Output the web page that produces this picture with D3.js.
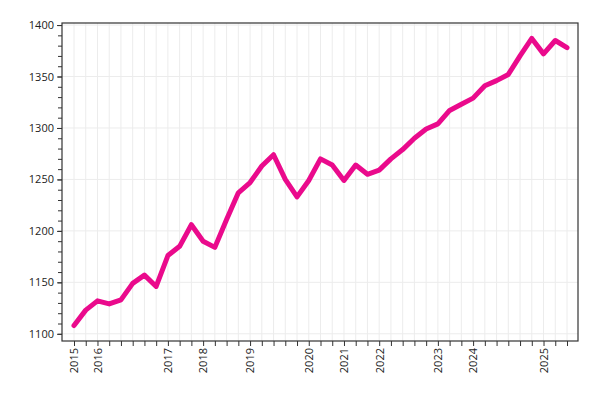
<!DOCTYPE html>
<html><head><meta charset="utf-8">
<script src="https://cdn.jsdelivr.net/npm/d3@7"></script>
<style>body{margin:0;background:#fff}text{font-family:"Open Sans",sans-serif;font-size:11px;fill:#222}</style>
</head><body><svg id="c" width="600" height="400"></svg>
<script>
const values=[1108,1123,1132,1129,1133,1149,1157,1146,1176,1185,1206,1190,1184,1211,1237,1247,1263,1274,1250,1233,1249,1270,1264,1249,1264,1255,1259,1270,1279,1290,1299,1304,1317,1323,1329,1341,1346,1352,1370,1387,1372,1385,1378];
const yearLabels={0:"2015",2:"2016",8:"2017",11:"2018",15:"2019",20:"2020",23:"2021",26:"2022",31:"2023",34:"2024",40:"2025"};
const labels=values.map((v,i)=>yearLabels[i]||"");
const yTicks=[1100,1150,1200,1250,1300,1350,1400];

const svg=d3.select("#c");
const L=62,R=578,T=23,B=341;
const x=d3.scalePoint().domain(d3.range(values.length)).range([74,567]);
const y=d3.scaleLinear().domain([1093,1402]).range([B,T]);
// grid
svg.append("g").selectAll("line").data(d3.range(values.length)).join("line")
 .attr("x1",d=>x(d)).attr("x2",d=>x(d)).attr("y1",T).attr("y2",B).attr("stroke","#ececec");
svg.append("g").selectAll("line").data(yTicks).join("line")
 .attr("x1",L).attr("x2",R).attr("y1",d=>y(d)).attr("y2",d=>y(d)).attr("stroke","#ececec");
// axes
const ya=svg.append("g").attr("transform",`translate(${L},0)`).call(d3.axisLeft(y).tickValues(yTicks).tickSize(5).tickFormat(d3.format("d")));
svg.append("g").attr("transform",`translate(${L},0)`).call(d3.axisLeft(y).tickValues(d3.range(1100,1401,10)).tickSize(4).tickFormat("")).select(".domain").remove();
const xa=svg.append("g").attr("transform",`translate(0,${B})`).call(d3.axisBottom(x).tickSize(5).tickFormat(i=>labels[i]));
xa.select(".domain").remove();
xa.selectAll("text").attr("transform","rotate(-90)").attr("text-anchor","end").attr("x",-7).attr("y",0).attr("dy","0.35em");
ya.select(".domain").remove();
svg.selectAll(".tick line").attr("stroke","#333");
svg.append("rect").attr("x",L).attr("y",T).attr("width",R-L).attr("height",B-T).attr("fill","none").attr("stroke","#333").attr("stroke-width",1.2);
// line
svg.append("path").datum(values).attr("fill","none").attr("stroke","#ea0a8c").attr("stroke-width",5).attr("stroke-linejoin","round").attr("stroke-linecap","round")
 .attr("d",d3.line().x((d,i)=>x(i)).y(d=>y(d)));
</script></body></html>
